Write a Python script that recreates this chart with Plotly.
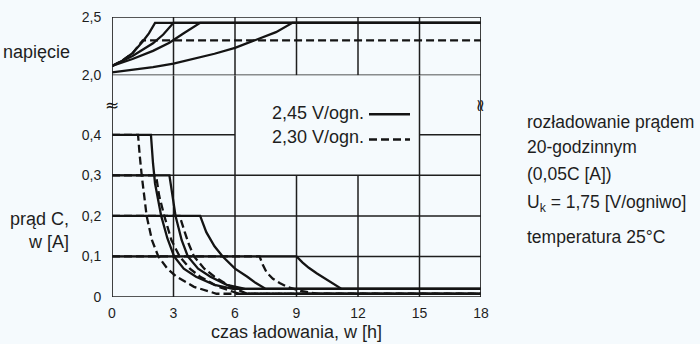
import plotly.graph_objects as go

# ---------------- data ----------------
x_ticks = [0, 3, 6, 9, 12, 15, 18]
x_ticktext = ["0", "3", "6", "9", "12", "15", "18"]
i_ticks = [0, 0.1, 0.2, 0.3, 0.4]
i_ticktext = ["0", "0,1", "0,2", "0,3", "0,4"]
v_ticks = [2.0, 2.5]
v_ticktext = ["2,0", "2,5"]

# voltage curves, 2.45 V/ogn. (solid)
v1_t = [0, 0.5, 1.0, 1.5, 1.8, 2.1, 18]
v1_v = [2.08, 2.125, 2.19, 2.29, 2.36, 2.45, 2.45]
v2_t = [0, 1.0, 2.0, 2.5, 3.0, 18]
v2_v = [2.08, 2.165, 2.275, 2.35, 2.45, 2.45]
v3_t = [0, 1.0, 2.0, 2.8, 3.5, 4.3, 18]
v3_v = [2.08, 2.14, 2.21, 2.28, 2.36, 2.45, 2.45]
v4_t = [0, 1, 2, 3, 4, 5, 6, 7, 8, 8.8, 18]
v4_v = [2.025, 2.045, 2.07, 2.10, 2.14, 2.185, 2.235, 2.30, 2.37, 2.45, 2.45]
# voltage, 2.30 V/ogn. (dashed)
vd_t = [0, 0.5, 1.0, 1.5, 18]
vd_v = [2.08, 2.125, 2.19, 2.30, 2.30]

# current curves, 2.45 V/ogn. (solid)
s4_t = [0, 1.9, 2.0, 2.1, 2.4, 2.7, 3.03, 3.5, 4.1, 5.0, 5.9, 18]
s4_i = [0.4, 0.4, 0.33, 0.28, 0.2, 0.145, 0.1, 0.07, 0.05, 0.03, 0.02, 0.02]
s3_t = [0, 2.8, 2.95, 3.1, 3.4, 3.7, 4.2, 4.8, 5.6, 6.5, 18]
s3_i = [0.3, 0.3, 0.25, 0.2, 0.14, 0.1, 0.07, 0.05, 0.03, 0.02, 0.02]
s2_t = [0, 4.3, 4.6, 5.0, 5.4, 6.0, 6.6, 7.0, 7.5, 18]
s2_i = [0.2, 0.2, 0.16, 0.125, 0.1, 0.07, 0.05, 0.035, 0.02, 0.02]
s1_t = [0, 9.0, 9.3, 9.6, 10.0, 10.4, 10.8, 11.2, 18]
s1_i = [0.1, 0.1, 0.085, 0.072, 0.058, 0.045, 0.033, 0.02, 0.02]
# current curves, 2.30 V/ogn. (dashed)
d4_t = [0, 1.27, 1.35, 1.45, 1.69, 1.95, 2.26, 2.7, 3.15, 4.0, 5.1, 18]
d4_i = [0.4, 0.4, 0.35, 0.3, 0.2, 0.14, 0.1, 0.07, 0.05, 0.025, 0.008, 0.008]
d3_t = [0, 2.15, 2.3, 2.55, 2.9, 3.3, 3.8, 4.3, 5.2, 6.2, 18]
d3_i = [0.3, 0.3, 0.25, 0.2, 0.14, 0.1, 0.07, 0.05, 0.025, 0.008, 0.008]
d2_t = [0, 3.3, 3.55, 3.75, 4.0, 4.5, 5.0, 5.8, 6.6, 18]
d2_i = [0.2, 0.2, 0.16, 0.13, 0.1, 0.07, 0.05, 0.025, 0.008, 0.008]
d1_t = [0, 7.2, 7.35, 7.55, 7.85, 8.2, 8.6, 9.2, 10.0, 18]
d1_i = [0.1, 0.1, 0.08, 0.06, 0.045, 0.034, 0.024, 0.015, 0.008, 0.008]

legend_labels = ["2,45 V/ogn.", "2,30 V/ogn."]
side_text = ["rozładowanie prądem", "20-godzinnym", "(0,05C [A])",
             "U<sub>k</sub> = 1,75 [V/ogniwo]", "temperatura 25°C"]

# ---------------- layout geometry ----------------
W, H = 700, 344
L, R, T, B = 112, 481, 9, 297
PW, PH = R - L, B - T
GAP_TOP = 69  # pixel row of the 2,0 V line
top_dom = (B - GAP_TOP) / PH
I_TOP = 0.1 * (B - GAP_TOP) / 41.7  # current value at the 2,0 V line
BG = "#f5fafd"
INK = "#141414"
GRID = "#1e1e1e"
FONT = "Liberation Sans, Arial, sans-serif"


def px(xp):
    return (xp - L) / PW


def py(yp):
    return (B - yp) / PH


fig = go.Figure()

line_solid = dict(color=INK, width=2.3)
line_dash = dict(color=INK, width=2.3, dash="8px,4px")

for t, v in [(v1_t, v1_v), (v2_t, v2_v), (v3_t, v3_v), (v4_t, v4_v)]:
    fig.add_trace(go.Scatter(x=t, y=v, yaxis="y2", mode="lines", line=line_solid,
                             showlegend=False, hoverinfo="skip"))
fig.add_trace(go.Scatter(x=vd_t, y=vd_v, yaxis="y2", mode="lines", line=line_dash,
                         showlegend=False, hoverinfo="skip"))

for t, i in [(d4_t, d4_i), (d3_t, d3_i), (d2_t, d2_i), (d1_t, d1_i)]:
    fig.add_trace(go.Scatter(x=t, y=i, mode="lines", line=line_dash,
                             showlegend=False, hoverinfo="skip"))
for t, i in [(s4_t, s4_i), (s3_t, s3_i), (s2_t, s2_i), (s1_t, s1_i)]:
    fig.add_trace(go.Scatter(x=t, y=i, mode="lines", line=line_solid,
                             showlegend=False, hoverinfo="skip"))

shapes = []
gl = dict(color=GRID, width=1.5)
# top panel vertical grid
for xv in x_ticks[1:-1]:
    shapes.append(dict(type="line", xref="x", yref="y2", x0=xv, x1=xv, y0=v_ticks[0], y1=v_ticks[1],
                       line=gl, layer="below"))
# bottom panel vertical grid: 3, 6, 15 run up through the gap; 9, 12 stop at 0,3
for xv in x_ticks[1:-1]:
    top = I_TOP if xv in (3, 6, 15) else i_ticks[3]
    shapes.append(dict(type="line", xref="x", yref="y", x0=xv, x1=xv, y0=0, y1=top,
                       line=gl, layer="below"))
# bottom horizontal grid
for yv in i_ticks[1:4]:
    shapes.append(dict(type="line", xref="x", yref="y", x0=0, x1=18, y0=yv, y1=yv,
                       line=gl, layer="below"))
for a, b in [(0, 6), (15, 18)]:
    shapes.append(dict(type="line", xref="x", yref="y", x0=a, x1=b, y0=0.4, y1=0.4,
                       line=gl, layer="below"))
# frame
fl = dict(color=GRID, width=1.7)
for yv in v_ticks:
    shapes.append(dict(type="line", xref="x", yref="y2", x0=0, x1=18, y0=yv, y1=yv, line=fl))
shapes.append(dict(type="line", xref="x", yref="y", x0=0, x1=18, y0=0, y1=0, line=fl))
for xv in (0, 18):
    shapes.append(dict(type="line", xref="x", yref="paper", x0=xv, x1=xv, y0=0, y1=1, line=fl))
# legend samples
shapes.append(dict(type="line", xref="paper", yref="paper", x0=px(369), x1=px(410),
                   y0=py(109), y1=py(109), line=dict(color=INK, width=2.4)))
shapes.append(dict(type="line", xref="paper", yref="paper", x0=px(369), x1=px(410),
                   y0=py(135), y1=py(135), line=dict(color=INK, width=2.4, dash="8px,4px")))

ann = []
f18 = dict(family=FONT, size=18, color="#1e1e1e")
ann.append(dict(text="napięcie", xref="paper", yref="paper", x=px(1), y=py(45),
                xanchor="left", yanchor="middle", showarrow=False, font=f18))
ann.append(dict(text="prąd C,<br>w [A]", xref="paper", yref="paper", x=px(71), y=py(229),
                xanchor="right", yanchor="middle", align="right", showarrow=False, font=f18))
ann.append(dict(text="czas ładowania, w [h]", xref="paper", yref="paper", x=px(296), y=py(333),
                xanchor="center", yanchor="middle", showarrow=False, font=f18))
for lbl, yy in zip(legend_labels, [108, 132]):
    ann.append(dict(text=lbl, xref="paper", yref="paper", x=px(366), y=py(yy),
                    xanchor="right", yanchor="middle", showarrow=False, font=f18))
for txt, yy in zip(side_text, [117, 143, 170, 201, 235]):
    ann.append(dict(text=txt, xref="paper", yref="paper", x=px(525), y=py(yy),
                    xanchor="left", yanchor="middle", showarrow=False,
                    font=dict(family=FONT, size=17.5, color="#1e1e1e")))
ann.append(dict(text="≈", xref="paper", yref="paper", x=px(112), y=py(100), xanchor="center",
                yanchor="middle", showarrow=False, font=dict(family="DejaVu Sans", size=17, color=INK)))
ann.append(dict(text="≈", xref="paper", yref="paper", x=px(481), y=py(100), xanchor="center",
                yanchor="middle", showarrow=False, textangle=90,
                font=dict(family="DejaVu Sans", size=17, color=INK)))

tickfont = dict(family=FONT, size=14, color="#1e1e1e")
fig.update_layout(
    width=W, height=H,
    margin=dict(l=L, r=W - R, t=T, b=H - B),
    paper_bgcolor=BG, plot_bgcolor=BG,
    showlegend=False,
    xaxis=dict(range=[0, 18], tickvals=x_ticks, ticktext=x_ticktext, showgrid=False,
               zeroline=False, showline=False, ticks="outside", ticklen=3,
               tickcolor="rgba(0,0,0,0)", tickfont=tickfont, fixedrange=True),
    yaxis=dict(domain=[0, top_dom], range=[0, I_TOP], tickvals=i_ticks, ticktext=i_ticktext,
               showgrid=False, zeroline=False, showline=False, ticks="outside", ticklen=7,
               tickcolor="rgba(0,0,0,0)", tickfont=tickfont, fixedrange=True),
    yaxis2=dict(domain=[top_dom, 1], range=[2.0, 2.5], anchor="x", tickvals=v_ticks,
                ticktext=v_ticktext, showgrid=False, zeroline=False, showline=False,
                ticks="outside", ticklen=7, tickcolor="rgba(0,0,0,0)", tickfont=tickfont,
                fixedrange=True),
    shapes=shapes,
    annotations=ann,
)

fig.write_html("out.html")
